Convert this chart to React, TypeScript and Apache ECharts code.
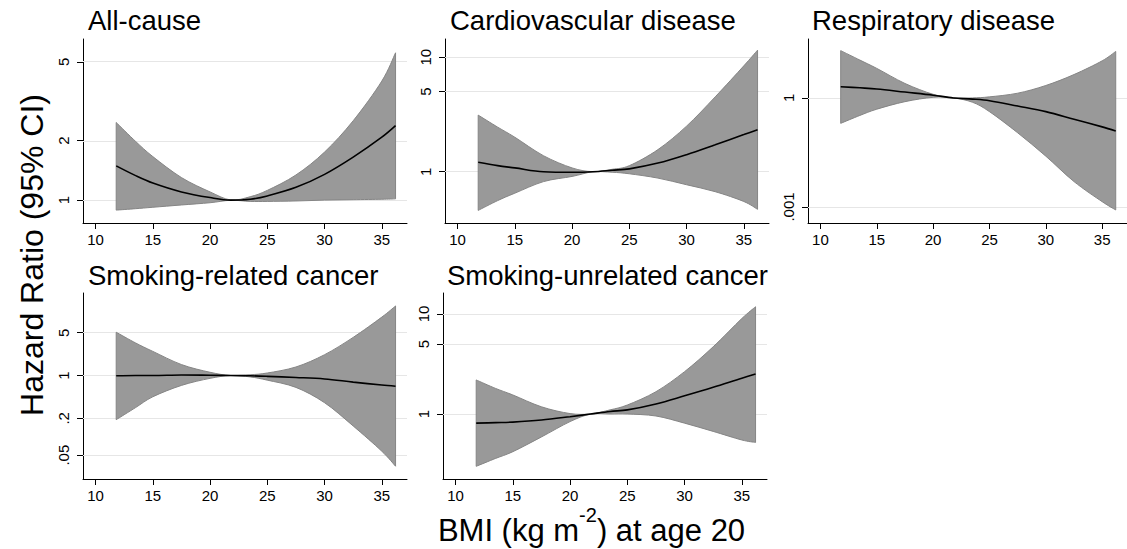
import React, { useEffect, useRef } from 'react';
import * as echarts from 'echarts';

// BMI (kg m^-2) at age 20 — points where the curves were read
const bmi = [11.8, 13.5, 15, 17.5, 20, 21.8, 23.5, 25, 27.5, 30, 32.5, 35, 36.2];

// All-cause
const allEst = [1.49, 1.33, 1.22, 1.1, 1.03, 1.0, 1.01, 1.05, 1.16, 1.35, 1.65, 2.08, 2.38];
const allLo = [0.89, 0.905, 0.92, 0.945, 0.97, 0.998, 0.985, 0.985, 0.99, 1.0, 1.005, 1.01, 1.015];
const allHi = [2.47, 1.98, 1.66, 1.3, 1.1, 1.002, 1.04, 1.12, 1.34, 1.75, 2.52, 4.0, 5.56];

// Cardiovascular disease
const cvdEst = [1.21, 1.13, 1.08, 1.0, 0.99, 1.0, 1.03, 1.06, 1.19, 1.41, 1.72, 2.11, 2.33];
const cvdLo = [0.46, 0.56, 0.65, 0.82, 0.91, 0.998, 0.99, 0.96, 0.88, 0.77, 0.67, 0.55, 0.47];
const cvdHi = [3.12, 2.45, 2.0, 1.38, 1.08, 1.002, 1.05, 1.13, 1.56, 2.5, 4.5, 8.4, 11.5];

// Respiratory disease
const resEst = [2.04, 1.9, 1.77, 1.45, 1.19, 1.0, 0.93, 0.84, 0.6, 0.42, 0.26, 0.16, 0.124];
const resLo = [0.2, 0.33, 0.49, 0.79, 1.04, 0.998, 0.76, 0.42, 0.11, 0.025, 0.005, 0.0014, 0.00083];
const resHi = [20, 11, 6.5, 2.5, 1.26, 1.002, 1.0, 1.07, 1.35, 2.2, 4.4, 10.5, 19];

// Smoking-related cancer
const srcEst = [0.99, 1.0, 1.0, 1.02, 1.01, 1.0, 0.99, 0.97, 0.93, 0.88, 0.78, 0.7, 0.67];
const srcLo = [0.19, 0.3, 0.45, 0.69, 0.9, 0.998, 0.95, 0.84, 0.64, 0.36, 0.15, 0.058, 0.033];
const srcHi = [5.1, 3.4, 2.48, 1.51, 1.13, 1.002, 1.03, 1.1, 1.38, 2.19, 4.2, 9.0, 13.7];

// Smoking-unrelated cancer
const sucEst = [0.81, 0.82, 0.83, 0.87, 0.94, 1.0, 1.06, 1.1, 1.26, 1.52, 1.85, 2.28, 2.51];
const sucLo = [0.3, 0.36, 0.42, 0.59, 0.84, 0.998, 1.0, 1.0, 0.955, 0.81, 0.67, 0.55, 0.52];
const sucHi = [2.19, 1.8, 1.55, 1.18, 1.01, 1.002, 1.1, 1.23, 1.67, 2.65, 4.7, 9.0, 11.8];

const panelTitles = [
  'All-cause',
  'Cardiovascular disease',
  'Respiratory disease',
  'Smoking-related cancer',
  'Smoking-unrelated cancer',
];

const xTicks = [10, 15, 20, 25, 30, 35];

const yTicks1 = [1, 2, 5];
const yLabels1 = ['1', '2', '5'];
const yTicks2 = [1, 5, 10];
const yLabels2 = ['1', '5', '10'];
const yTicks3 = [0.001, 1];
const yLabels3 = ['.001', '1'];
const yTicks4 = [0.05, 0.2, 1, 5];
const yLabels4 = ['.05', '.2', '1', '5'];
const yTicks5 = [1, 5, 10];
const yLabels5 = ['1', '5', '10'];

const FONT = '"Liberation Sans", Arial, Helvetica, sans-serif';

const panels = [
  { est: allEst, lo: allLo, hi: allHi, ticks: yTicks1, labels: yLabels1, yMin: 0.766, yMax: 6.53, left: 83, top: 39, height: 184 },
  { est: cvdEst, lo: cvdLo, hi: cvdHi, ticks: yTicks2, labels: yLabels2, yMin: 0.357, yMax: 14.4, left: 445, top: 39, height: 184 },
  { est: resEst, lo: resLo, hi: resHi, ticks: yTicks3, labels: yLabels3, yMin: 0.000363, yMax: 41.8, left: 808, top: 39, height: 184 },
  { est: srcEst, lo: srcLo, hi: srcHi, ticks: yTicks4, labels: yLabels4, yMin: 0.0204, yMax: 22.3, left: 83, top: 293, height: 186 },
  { est: sucEst, lo: sucLo, hi: sucHi, ticks: yTicks5, labels: yLabels5, yMin: 0.224, yMax: 16.2, left: 443, top: 293, height: 186 },
];

const titlePos = [
  { x: 88, y: 20 },
  { x: 450, y: 20 },
  { x: 812, y: 20 },
  { x: 88, y: 275 },
  { x: 447, y: 275 },
];

const L = (v: number) => Math.log10(v);

function measure(text: string, size: number) {
  const c = document.createElement('canvas').getContext('2d');
  if (!c) return text.length * size * 0.5;
  c.font = `${size}px ${FONT}`;
  return c.measureText(text).width;
}

// Smooth (Catmull-Rom) path segments through pixel points, continuing from the first point
function splineSegs(pts: number[][]) {
  let d = '';
  const n = pts.length;
  for (let i = 0; i < n - 1; i++) {
    const p0 = pts[Math.max(0, i - 1)];
    const p1 = pts[i];
    const p2 = pts[i + 1];
    const p3 = pts[Math.min(n - 1, i + 2)];
    const c1x = p1[0] + (p2[0] - p0[0]) / 6;
    const c1y = p1[1] + (p2[1] - p0[1]) / 6;
    const c2x = p2[0] - (p3[0] - p1[0]) / 6;
    const c2y = p2[1] - (p3[1] - p1[1]) / 6;
    d += ` C${c1x},${c1y} ${c2x},${c2y} ${p2[0]},${p2[1]}`;
  }
  return d;
}

export default function App() {
  const ref = useRef<HTMLDivElement>(null);

  useEffect(() => {
    if (!ref.current) return;
    const chart = echarts.init(ref.current, undefined, { renderer: 'svg' });

    const grid: any[] = [];
    const xAxis: any[] = [];
    const yAxis: any[] = [];
    const series: any[] = [];

    panels.forEach((p, i) => {
      grid.push({ left: p.left, top: p.top, width: 324, height: p.height, containLabel: false });
      xAxis.push({
        type: 'value',
        gridIndex: i,
        min: 8.9,
        max: 37.2,
        axisLine: { show: true, onZero: false, lineStyle: { color: '#000', width: 1 } },
        axisTick: { show: true, length: 6, customValues: xTicks, lineStyle: { color: '#000', width: 1 } },
        axisLabel: { customValues: xTicks, fontSize: 15, color: '#000', fontFamily: FONT, margin: 9 },
        splitLine: { show: false },
      });
      const logTicks = p.ticks.map(L);
      yAxis.push({
        type: 'value',
        gridIndex: i,
        min: L(p.yMin),
        max: L(p.yMax),
        axisLine: { show: true, onZero: false, lineStyle: { color: '#000', width: 1 } },
        axisTick: { show: true, length: 6, customValues: logTicks, lineStyle: { color: '#000', width: 1 } },
        axisLabel: {
          customValues: logTicks,
          rotate: 90,
          fontSize: 15,
          color: '#000',
          fontFamily: FONT,
          margin: 12,
          formatter: (v: number) => {
            const k = logTicks.findIndex((t) => Math.abs(t - v) < 1e-6);
            return k >= 0 ? p.labels[k] : '';
          },
        },
        splitLine: { show: false },
      });

      // grid lines at tick values
      series.push({
        type: 'line',
        xAxisIndex: i,
        yAxisIndex: i,
        data: [],
        silent: true,
        markLine: {
          z: 1,
          silent: true,
          symbol: ['none', 'none'],
          label: { show: false },
          lineStyle: { color: '#e6e6e6', width: 1.2, type: 'solid' },
          data: logTicks.map((t) => ({ yAxis: t })),
        },
      });

      // CI band (upper bound forward, lower bound back)
      series.push({
        type: 'custom',
        xAxisIndex: i,
        yAxisIndex: i,
        z: 3,
        silent: true,
        data: bmi.map((x, k) => [x, L(p.lo[k]), L(p.hi[k])]),
        encode: { x: 0, y: [1, 2] },
        renderItem: (params: any, api: any) => {
          if (params.dataIndex !== 0) return null;
          const up = bmi.map((x, k) => api.coord([x, L(p.hi[k])]));
          const dn = bmi.map((x, k) => api.coord([x, L(p.lo[k])])).reverse();
          const d =
            `M${up[0][0]},${up[0][1]}` +
            splineSegs(up) +
            ` L${dn[0][0]},${dn[0][1]}` +
            splineSegs(dn) +
            ' Z';
          return {
            type: 'path',
            shape: { pathData: d },
            style: { fill: '#999999', stroke: '#858585', lineWidth: 1 },
          };
        },
      });

      // estimate
      series.push({
        type: 'line',
        xAxisIndex: i,
        yAxisIndex: i,
        smooth: 0.35,
        symbol: 'none',
        z: 4,
        lineStyle: { color: '#000', width: 1.6 },
        data: bmi.map((x, k) => [x, L(p.est[k])]),
      });
    });

    const graphic: any[] = panelTitles.map((t, i) => ({
      type: 'text',
      x: titlePos[i].x,
      y: titlePos[i].y,
      style: { text: t, fontSize: 27.5, fontFamily: FONT, fill: '#000', align: 'left', verticalAlign: 'middle' },
    }));

    graphic.push({
      type: 'text',
      x: 32,
      y: 255,
      rotation: Math.PI / 2,
      style: { text: 'Hazard Ratio (95% CI)', fontSize: 32, fontFamily: FONT, fill: '#000', align: 'center', verticalAlign: 'middle' },
    });

    const s1 = 'BMI (kg m';
    const s2 = '-2';
    const s3 = ') at age 20';
    const w1 = measure(s1, 31);
    const w2 = measure(s2, 20);
    const w3 = measure(s3, 31);
    const x0 = 591.5 - (w1 + w2 + w3) / 2;
    graphic.push({
      type: 'text', x: x0, y: 530,
      style: { text: s1, fontSize: 31, fontFamily: FONT, fill: '#000', align: 'left', verticalAlign: 'middle' },
    });
    graphic.push({
      type: 'text', x: x0 + w1, y: 515,
      style: { text: s2, fontSize: 20, fontFamily: FONT, fill: '#000', align: 'left', verticalAlign: 'middle' },
    });
    graphic.push({
      type: 'text', x: x0 + w1 + w2, y: 530,
      style: { text: s3, fontSize: 31, fontFamily: FONT, fill: '#000', align: 'left', verticalAlign: 'middle' },
    });

    chart.setOption({
      animation: false,
      backgroundColor: '#ffffff',
      grid,
      xAxis,
      yAxis,
      series,
      graphic,
    });

    return () => chart.dispose();
  }, []);

  return <div ref={ref} style={{ position: 'fixed', left: 0, top: 0, width: 1127, height: 549 }} />;
}
